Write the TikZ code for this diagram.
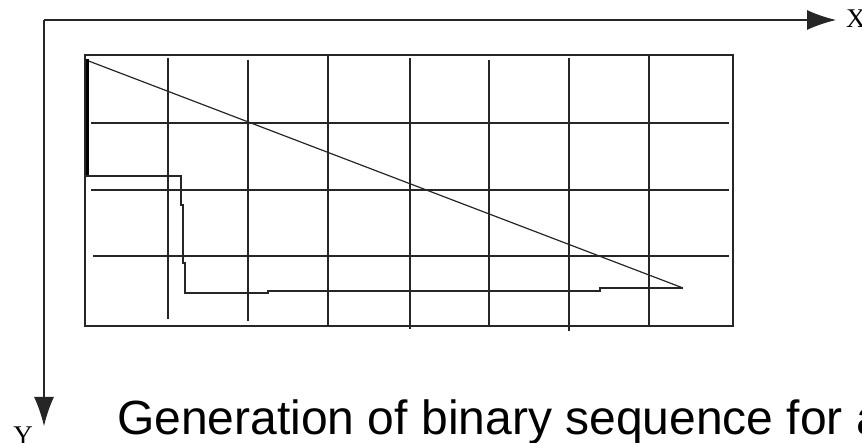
\documentclass[tikz,border=0pt]{standalone}
\usepackage{fontspec}
\setmainfont{Liberation Serif}
\newfontfamily\capfont{Liberation Sans}
\usetikzlibrary{arrows.meta}
\tikzset{
  gridline/.style={line width=1.3pt, black!85},
  frameline/.style={line width=1.5pt, black!85},
  axisline/.style={line width=1.2pt, black!85},
  axistip/.style={-{Latex[length=29pt,width=20pt]}},
  curveline/.style={line width=1.2pt, black!85},
  axislabel/.style={font=\fontsize{27}{27}\selectfont, inner sep=0pt},
}
\begin{document}
\begin{tikzpicture}[x=1pt,y=-1pt]
\useasboundingbox (0,0) rectangle (862,443);
\clip (0,0) rectangle (862,443);
% axes
\coordinate (O) at (44,20);
\coordinate (Xend) at (836,20);
\coordinate (Yend) at (44,426);
\draw[axisline,axistip] (O) -- (Xend);
\draw[axisline,axistip] (O) -- (Yend);
\node[axislabel, anchor=west] (xl) at (846,19) {X};
\node[axislabel, anchor=north] (yl) at (23,427) {Y};
% frame
\draw[frameline] (85,55) rectangle (733,326);
% vertical grid lines
\draw[gridline] (168,58) -- (168,319);
\draw[gridline] (248,60) -- (248,321);
\draw[gridline] (328,55) -- (328,326);
\draw[gridline] (410,58) -- (410,329);
\draw[gridline] (489,60) -- (489,326);
\draw[gridline] (569,58) -- (569,331);
\draw[gridline] (649,55) -- (649,326);
% horizontal grid lines
\draw[gridline] (91,123) -- (729,123);
\draw[gridline] (91,190) -- (729,190);
\draw[gridline] (93,256) -- (729,256);
% diagonal
\draw[curveline] (86,60) -- (683,288);
% thick start
\draw[line width=3pt, black] (87,59) -- (87,176);
% staircase
\draw[curveline] (86,176) -- (181,176) -- (181,205) -- (183,205) -- (183,263) -- (185,263) -- (185,293) -- (268,293) -- (268,291) -- (600,291) -- (600,288) -- (683,288);
% caption
\node[font=\capfont\fontsize{48}{48}\selectfont, anchor=base west, inner sep=0pt] (cap) at (117,434) {Generation of binary sequence for a};
\end{tikzpicture}
\end{document}
